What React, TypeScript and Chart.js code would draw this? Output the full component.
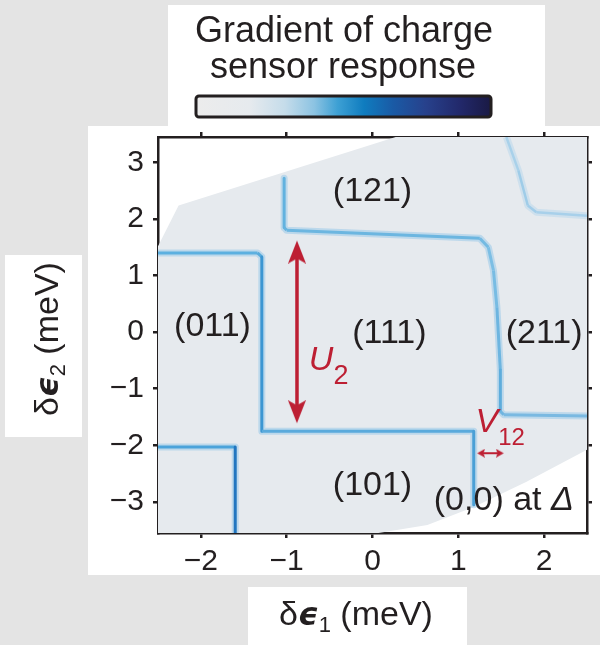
import React, { useEffect, useRef } from 'react';
import { Chart, registerables } from 'chart.js';

Chart.register(...registerables);

const FONT = "'Liberation Sans', Arial, Helvetica, sans-serif";
const INK = '#231f20';
const RED = '#bd1f33';

// ---- axes ----
const xRange = [-2.5, 2.5];
const yRange = [-3.55, 3.45];
const xTicks = [-2, -1, 0, 1, 2];
const yTicks = [-3, -2, -1, 0, 1, 2, 3];

// ---- measured (scanned) window of the map ----
const scanTopX = [-2.5, -2.26, 0.27, 2.5];
const scanTopY = [1.52, 2.24, 3.45, 3.45];
const scanBottomX = [-2.5, 0.07, 0.64, 1.18, 1.79, 2.45, 2.5];
const scanBottomY = [-3.55, -3.55, -3.41, -3.09, -2.65, -2.12, -2.08];

// ---- charge transition lines ----
const line1X = [-2.5, -1.34, -1.29, -1.29, 1.18, 1.18];
const line1Y = [1.4, 1.4, 1.33, -1.75, -1.75, -3.05];
const line2X = [-1.03, -1.03, -1.0, 1.25, 1.35, 1.41, 1.45, 1.49, 1.49, 1.53, 2.5];
const line2Y = [2.72, 1.85, 1.8, 1.66, 1.5, 1.09, 0.44, -0.67, -1.4, -1.46, -1.48];
const line3X = [1.56, 1.7, 1.81, 1.91, 2.5];
const line3Y = [3.45, 2.86, 2.24, 2.12, 2.06];
const line4X = [-2.5, -1.6, -1.6];
const line4Y = [-2.03, -2.03, -3.55];

// segment colours (style)
const line1Colors = ['#5cb0e0', '#58abdc', '#3c96d2', '#5aaadc', '#4aa0d6'];
const line2Colors = ['#62b2df', '#66b3df', '#6cb6e0', '#74bae2', '#7cbee4', '#78bce3', '#6db5e0', '#5eaddc', '#70b5e0', '#7ab9e1'];
const line3Colors = ['#a9d1ea', '#9fcce8', '#a2cde9', '#a8d0ea'];
const line4Colors = ['#4ba3da', '#2276c0'];

// ---- arrows ----
const u2TipX = [-0.88, -0.88];
const u2TipY = [1.62, -1.61];
const u2ShaftY = [1.45, -1.44];
const v12TipX = [1.22, 1.53];
const v12TipY = [-2.14, -2.14];
const v12ShaftX = [1.27, 1.48];

// ---- labels ----
const stateLabels = ['(121)', '(011)', '(111)', '(211)', '(101)'];
const stateX = [0.0, -1.865, 0.197, 2.0, 0.0];
const stateY = [2.49, 0.09, -0.02, -0.02, -2.72];
const originLabelPos = [1.53, -2.98];
const u2LabelPos = [-0.742, -0.67];
const v12LabelPos = [1.2, -1.765];

// colour bar
const cbOffsets = [0, 0.18, 0.3, 0.4, 0.48, 0.57, 0.67, 0.78, 0.9, 1];
const cbColors = ['#ececec', '#e6eaee', '#c5dcea', '#8cc3e2', '#3da0d4', '#0f7cbf', '#1a5aa5', '#27418c', '#22286a', '#1a1a45'];

const zip = (xs: number[], ys: number[]) => xs.map((x, i) => ({ x, y: ys[i] }));
const fmt = (v: number) => (v < 0 ? '\u2212' + Math.abs(v) : String(v));

type Run = { t: string; f: string; dy?: number };

function drawRuns(ctx: CanvasRenderingContext2D, runs: Run[], x: number, y: number, align: 'left' | 'center', baseline: CanvasTextBaseline, color: string) {
  ctx.save();
  ctx.textAlign = 'left';
  ctx.textBaseline = baseline;
  ctx.fillStyle = color;
  let total = 0;
  for (const r of runs) {
    ctx.font = r.f;
    total += ctx.measureText(r.t).width;
  }
  let cx = align === 'center' ? x - total / 2 : x;
  for (const r of runs) {
    ctx.font = r.f;
    ctx.fillText(r.t, cx, y + (r.dy || 0));
    cx += ctx.measureText(r.t).width;
  }
  ctx.restore();
}

function makeHead(w: number, h: number) {
  const c = document.createElement('canvas');
  c.width = w;
  c.height = h * 2;
  const g = c.getContext('2d')!;
  g.fillStyle = RED;
  g.beginPath();
  g.moveTo(w / 2, h);
  g.lineTo(w, 2 * h);
  g.lineTo(w / 2, 2 * h - h * 0.22);
  g.lineTo(0, 2 * h);
  g.closePath();
  g.fill();
  return c;
}

const backdrop = {
  id: 'backdrop',
  beforeDraw(chart: any) {
    const { ctx, width, height } = chart;
    ctx.save();
    ctx.fillStyle = '#e4e4e4';
    ctx.fillRect(0, 0, width, height);
    ctx.fillStyle = '#ffffff';
    ctx.fillRect(168, 5, 377, 125);
    ctx.fillRect(88, 126, 512, 449);
    ctx.fillRect(5, 255, 77, 182);
    ctx.fillRect(248, 587, 219, 58);
    ctx.restore();
  },
};

const annotations = {
  id: 'annotations',
  afterDatasetsDraw(chart: any) {
    const { ctx, scales } = chart;
    const px = (v: number) => scales.x.getPixelForValue(v);
    const py = (v: number) => scales.y.getPixelForValue(v);
    const reg = `34px ${FONT}`;
    stateLabels.forEach((t, i) => drawRuns(ctx, [{ t, f: reg }], px(stateX[i]), py(stateY[i]), 'center', 'middle', INK));
    drawRuns(ctx, [{ t: '(0,0) at ', f: reg }, { t: '\u0394', f: `italic 34px ${FONT}` }], px(originLabelPos[0]), py(originLabelPos[1]), 'center', 'middle', INK);
    drawRuns(ctx, [{ t: 'U', f: `italic 34px ${FONT}` }, { t: '2', f: `27px ${FONT}`, dy: 14 }], px(u2LabelPos[0]), py(u2LabelPos[1]), 'left', 'alphabetic', RED);
    drawRuns(ctx, [{ t: 'V', f: `italic 34px ${FONT}` }, { t: '12', f: `24px ${FONT}`, dy: 13 }], px(v12LabelPos[0]), py(v12LabelPos[1]), 'left', 'alphabetic', RED);
  },
};

const frameText = {
  id: 'frameText',
  afterDraw(chart: any) {
    const { ctx } = chart;
    // colour bar title
    drawRuns(ctx, [{ t: 'Gradient of charge', f: `36px ${FONT}` }], 344, 42, 'center', 'alphabetic', INK);
    drawRuns(ctx, [{ t: 'sensor response', f: `36px ${FONT}` }], 343, 78, 'center', 'alphabetic', INK);
    // colour bar
    ctx.save();
    const g = ctx.createLinearGradient(197, 0, 490, 0);
    cbOffsets.forEach((o, i) => g.addColorStop(o, cbColors[i]));
    ctx.beginPath();
    if (ctx.roundRect) ctx.roundRect(196, 96, 295, 21, 3);
    else ctx.rect(196, 96, 295, 21);
    ctx.fillStyle = g;
    ctx.fill();
    ctx.lineWidth = 3;
    ctx.strokeStyle = INK;
    ctx.stroke();
    ctx.restore();
    // axis titles
    const xRuns: Run[] = [
      { t: '\u03b4', f: `34px ${FONT}` },
      { t: '\u03f5', f: `italic bold 32px 'DejaVu Sans', sans-serif` },
      { t: '1', f: `22px ${FONT}`, dy: 7 },
      { t: ' (meV)', f: `34px ${FONT}` },
    ];
    drawRuns(ctx, xRuns, 356, 625, 'center', 'alphabetic', INK);
    const yRuns: Run[] = [
      { t: '\u03b4', f: `34px ${FONT}` },
      { t: '\u03f5', f: `italic bold 32px 'DejaVu Sans', sans-serif` },
      { t: '2', f: `22px ${FONT}`, dy: 7 },
      { t: ' (meV)', f: `34px ${FONT}` },
    ];
    ctx.save();
    ctx.translate(58, 339);
    ctx.rotate(-Math.PI / 2);
    drawRuns(ctx, yRuns, 0, 0, 'center', 'alphabetic', INK);
    ctx.restore();
  },
};

export default function App() {
  const ref = useRef<HTMLCanvasElement>(null);
  useEffect(() => {
    const canvas = ref.current;
    if (!canvas) return;
    const headU = makeHead(18, 23);
    const headV = makeHead(9, 8);

    const lineDs = (xs: number[], ys: number[], colors: string[], width: number, order: number) => ({
      data: zip(xs, ys),
      showLine: true,
      pointRadius: 0,
      borderWidth: width,
      borderColor: colors[0],
      segment: { borderColor: (c: any) => colors[c.p0DataIndex] },
      borderJoinStyle: 'round',
      borderCapStyle: 'butt',
      fill: false,
      order,
    });
    const haloDs = (xs: number[], ys: number[], color: string) => ({
      data: zip(xs, ys),
      showLine: true,
      pointRadius: 0,
      borderWidth: 7,
      borderColor: color,
      borderJoinStyle: 'round',
      borderCapStyle: 'butt',
      fill: false,
      order: 10,
    });

    const halo = 'rgba(130,190,232,0.42)';
    const datasets: any[] = [
      { data: zip(scanTopX, scanTopY), showLine: true, pointRadius: 0, borderWidth: 0, borderColor: 'rgba(0,0,0,0)', backgroundColor: '#e6eaee', fill: '+1', order: 20 },
      { data: zip(scanBottomX, scanBottomY), showLine: true, pointRadius: 0, borderWidth: 0, borderColor: 'rgba(0,0,0,0)', fill: false, order: 20 },
      haloDs(line1X, line1Y, halo),
      haloDs(line2X, line2Y, halo),
      haloDs(line3X, line3Y, 'rgba(170,210,236,0.4)'),
      haloDs(line4X, line4Y, halo),
      lineDs(line1X, line1Y, line1Colors, 3, 5),
      lineDs(line2X, line2Y, line2Colors, 3, 5),
      lineDs(line3X, line3Y, line3Colors, 2.5, 5),
      lineDs(line4X, line4Y, line4Colors, 3, 5),
      { data: zip(u2TipX, u2ShaftY), showLine: true, pointRadius: 0, borderWidth: 3.5, borderColor: RED, fill: false, order: 2 },
      { data: zip(u2TipX, u2TipY), showLine: false, pointRadius: 12, pointStyle: headU, pointRotation: [0, 180], order: 1 },
      { data: zip(v12ShaftX, v12TipY), showLine: true, pointRadius: 0, borderWidth: 2, borderColor: RED, fill: false, order: 2 },
      { data: zip(v12TipX, v12TipY), showLine: false, pointRadius: 6, pointStyle: headV, pointRotation: [270, 90], order: 1 },
    ];

    const tickFont = { family: FONT, size: 30 };
    const gridOpts = { drawOnChartArea: false, drawTicks: true, tickLength: 5, tickWidth: 2.5, tickColor: INK, lineWidth: 2.5, color: INK };
    const borderOpts = { display: true, color: INK, width: 2.5 };

    const chart = new Chart(canvas, {
      type: 'scatter',
      data: { datasets },
      options: {
        responsive: false,
        animation: false,
        devicePixelRatio: 1,
        layout: { padding: { left: 108, top: 127, right: 3, bottom: 67 } },
        plugins: { legend: { display: false }, tooltip: { enabled: false } },
        scales: {
          x: {
            type: 'linear', position: 'bottom', min: xRange[0], max: xRange[1], z: 1,
            afterBuildTicks: (s: any) => { s.ticks = xTicks.map((v) => ({ value: v })); },
            afterFit: (s: any) => { s.height = 45; },
            ticks: { color: INK, font: tickFont, padding: 6, maxRotation: 0, autoSkip: false, callback: (v: any) => fmt(Number(v)) },
            grid: gridOpts, border: borderOpts,
          },
          x2: {
            type: 'linear', position: 'top', min: xRange[0], max: xRange[1], z: 1,
            afterBuildTicks: (s: any) => { s.ticks = xTicks.map((v) => ({ value: v })); },
            afterFit: (s: any) => { s.height = 10; },
            ticks: { display: false },
            grid: gridOpts, border: borderOpts,
          },
          y: {
            type: 'linear', position: 'left', min: yRange[0], max: yRange[1], z: 1,
            afterBuildTicks: (s: any) => { s.ticks = yTicks.map((v) => ({ value: v })); },
            afterFit: (s: any) => { s.width = 50; },
            ticks: { color: INK, font: tickFont, padding: 9, autoSkip: false, callback: (v: any) => fmt(Number(v)) },
            grid: gridOpts, border: borderOpts,
          },
          y2: {
            type: 'linear', position: 'right', min: yRange[0], max: yRange[1], z: 1,
            afterBuildTicks: (s: any) => { s.ticks = yTicks.map((v) => ({ value: v })); },
            afterFit: (s: any) => { s.width = 6; },
            ticks: { display: false },
            grid: gridOpts, border: borderOpts,
          },
        },
      } as any,
      plugins: [backdrop, annotations, frameText],
    });
    return () => chart.destroy();
  }, []);

  return (
    <div style={{ position: 'absolute', left: 0, top: 0, width: 600, height: 645 }}>
      <canvas ref={ref} width={600} height={645} style={{ display: 'block', width: 600, height: 645 }} />
    </div>
  );
}
